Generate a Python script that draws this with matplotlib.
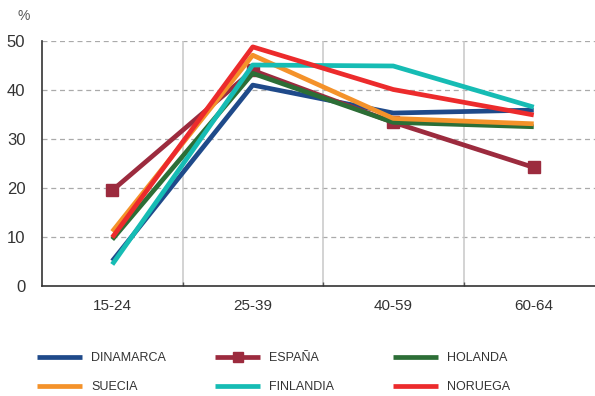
import numpy as np
import matplotlib.pyplot as plt
from matplotlib.lines import Line2D

# tasa por grupo de edad, %
edades = ['15-24', '25-39', '40-59', '60-64']
dinamarca = [5.1, 41.0, 35.3, 35.9]
espana = [19.5, 44.0, 33.4, 24.2]
holanda = [9.5, 43.4, 33.4, 32.5]
suecia = [11.1, 47.1, 34.2, 33.1]
finlandia = [4.4, 45.1, 44.9, 36.5]
noruega = [9.9, 48.8, 40.1, 34.9]

series = [
    ('DINAMARCA', dinamarca, '#1f4a8a', None),
    ('ESPAÑA', espana, '#9c2b3e', 's'),
    ('HOLANDA', holanda, '#2c6e36', None),
    ('SUECIA', suecia, '#f4922a', None),
    ('FINLANDIA', finlandia, '#16bcb4', None),
    ('NORUEGA', noruega, '#ec2b2c', None),
]

plt.rcParams['font.family'] = ['Liberation Sans', 'DejaVu Sans']

fig = plt.figure(figsize=(5.95, 3.96), dpi=100)
ax = fig.add_axes([42 / 595, 1 - 286 / 396, 562 / 595, 245 / 396])

x = np.arange(len(edades))
for nombre, vals, color, mk in series:
    ax.plot(x, vals, color=color, lw=3.4, marker=mk, ms=8,
            solid_capstyle='butt', zorder=3, clip_on=False)

ax.set_xlim(-0.5, 3.5)
ax.set_ylim(0, 50)
ax.set_yticks(np.arange(0, 51, 10))
ax.set_xticks(x)
ax.set_xticklabels(edades)
ax.set_xticks(x[:-1] + 0.5, minor=True)
ax.tick_params(axis='x', which='major', length=0, pad=9, labelsize=11, colors='#333333')
ax.tick_params(axis='x', which='minor', length=3, width=1, color='#555555', direction='in')
ax.tick_params(axis='y', length=0, pad=12, labelsize=12, colors='#333333')

for v in [10, 20, 30, 40, 50]:
    ax.axhline(v, color='#aaaaaa', lw=0.9, ls=(0, (4, 3)), zorder=1)
for v in x[:-1] + 0.5:
    ax.axvline(v, color='#c8c8c8', lw=1.1, zorder=1)

for s in ['top', 'right']:
    ax.spines[s].set_visible(False)
ax.spines['left'].set_color('#333333')
ax.spines['bottom'].set_color('#333333')
ax.spines['left'].set_linewidth(1.2)
ax.spines['bottom'].set_linewidth(1.2)

fig.text(18 / 595, 1 - 16 / 396, '%', fontsize=10, color='#555555', va='center')

# leyenda: tres columnas de dos filas, cada una como leyenda aparte
handles = []
for nombre, vals, color, mk in series:
    handles.append(Line2D([], [], color=color, lw=3.4, marker=mk, ms=7,
                          solid_capstyle='butt', label=nombre))
columnas = [(0, 3), (1, 4), (2, 5)]
col_x = [37, 215, 393]
for (a, b), cx in zip(columnas, col_x):
    leg = fig.legend([handles[a], handles[b]], [series[a][0], series[b][0]],
                     loc='upper left', bbox_to_anchor=(cx / 595, 1 - 352 / 396),
                     frameon=False, borderpad=0, borderaxespad=0,
                     handlelength=3.6, handletextpad=0.75, labelspacing=1.35,
                     prop={'size': 9})
    for t in leg.get_texts():
        t.set_color('#333333')

fig.savefig('out.png', dpi=100)
